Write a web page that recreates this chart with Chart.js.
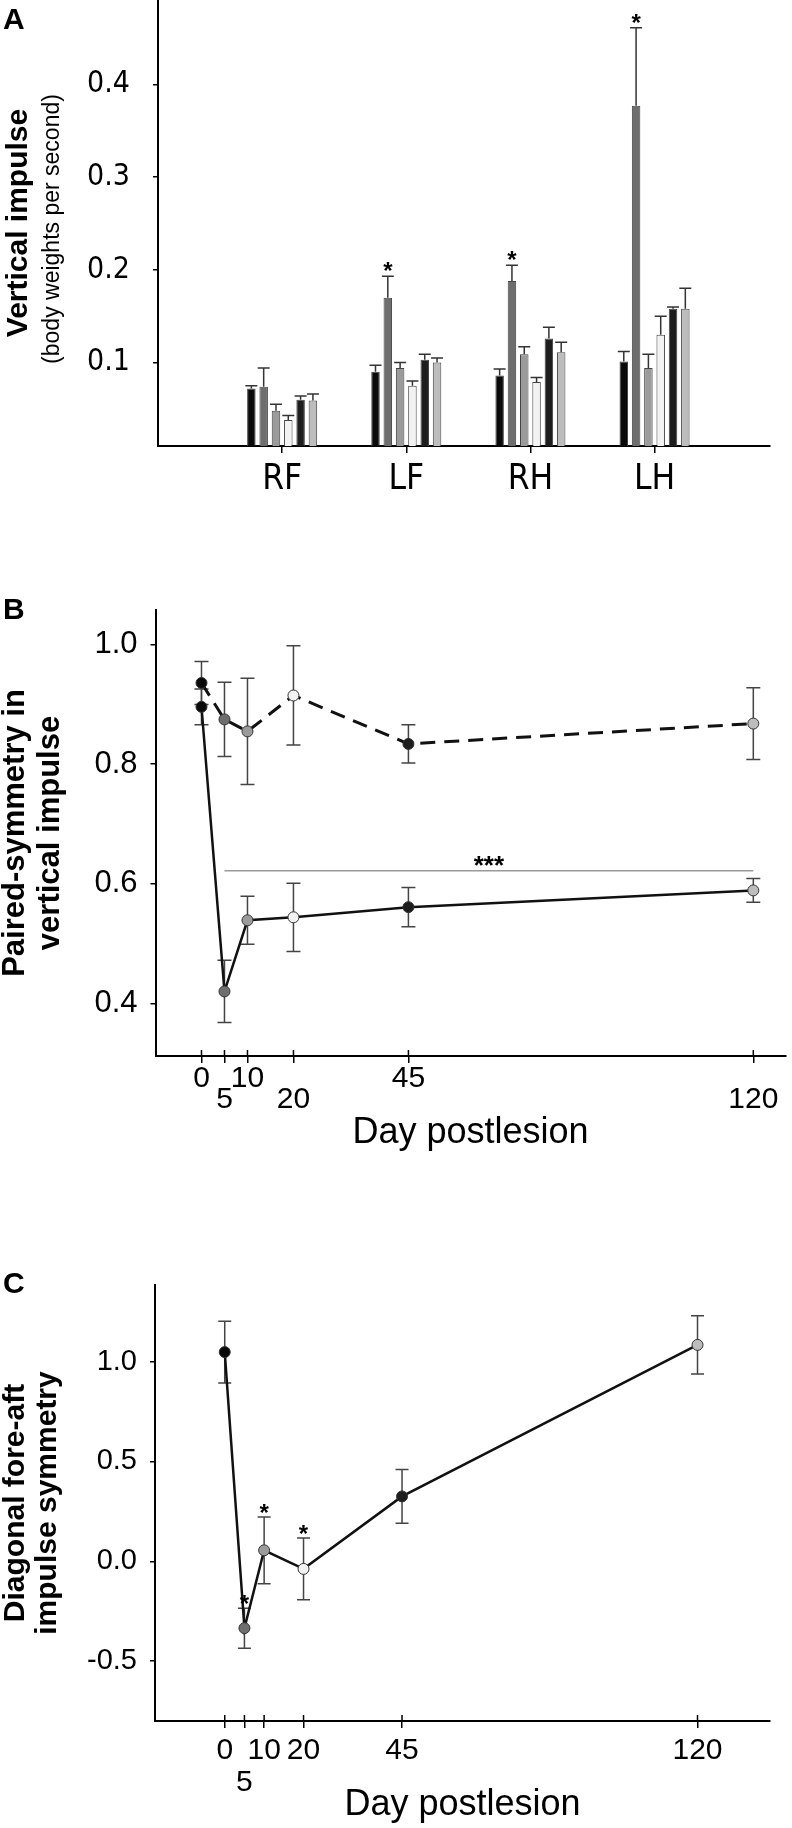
<!DOCTYPE html>
<html lang="en">
<head>
<meta charset="UTF-8">
<title>Vertical impulse and paired symmetry after lesion</title>
<script src="https://cdn.jsdelivr.net/npm/chart.js@4"></script>
<style>
  html, body { margin: 0; padding: 0; background: #fff; }
  body { width: 792px; height: 1828px; position: relative; overflow: hidden;
         font-family: 'Liberation Sans', Arial, sans-serif; }
  canvas { position: absolute; left: 0; }
  .panel { position: absolute; left: 3px; font-weight: bold; font-size: 30px; line-height: 1; z-index: 2; }
</style>
</head>
<body>
<canvas id="chartA" width="792" height="520" style="top:0"></canvas>
<canvas id="chartB" width="792" height="600" style="top:560px"></canvas>
<canvas id="chartC" width="792" height="588" style="top:1240px"></canvas>
<div class="panel" style="top:4px">A</div>
<div class="panel" style="top:594px">B</div>
<div class="panel" style="top:1268px">C</div>

<script>
// limbs and time points (days postlesion)
const limbs = ['RF', 'LF', 'RH', 'LH'];
const days = [0, 5, 10, 20, 45, 120];
const dayColors = ['#0a0a0a', '#6e6e6e', '#9b9b9b', '#f2f2f2', '#1e1e1e', '#bdbdbd'];

// A - vertical impulse per limb (RF, LF, RH, LH), one array per day
const impulseDay0 = [0.072, 0.090, 0.086, 0.101];
const impulseDay5 = [0.074, 0.170, 0.188, 0.377];
const impulseDay10 = [0.048, 0.094, 0.109, 0.094];
const impulseDay20 = [0.038, 0.075, 0.079, 0.130];
const impulseDay45 = [0.060, 0.103, 0.126, 0.158];
const impulseDay120 = [0.059, 0.100, 0.111, 0.158];
const impulseErr0 = [0.003, 0.007, 0.007, 0.011];
const impulseErr5 = [0.020, 0.023, 0.017, 0.084];
const impulseErr10 = [0.007, 0.006, 0.008, 0.015];
const impulseErr20 = [0.005, 0.005, 0.005, 0.020];
const impulseErr45 = [0.004, 0.006, 0.012, 0.002];
const impulseErr120 = [0.007, 0.005, 0.011, 0.022];
const impulseStarsDay5 = ['LF', 'RH', 'LH'];
const yTicksA = [0.1, 0.2, 0.3, 0.4];

// B - paired symmetry in vertical impulse
const pairedTop = [0.936, 0.875, 0.855, 0.915, 0.834, 0.868];
const pairedTopErr = [0.036, 0.062, 0.089, 0.083, 0.032, 0.060];
const pairedBottom = [0.896, 0.420, 0.539, 0.544, 0.561, 0.589];
const pairedBottomErr = [0.030, 0.052, 0.040, 0.057, 0.033, 0.020];
const pairedSigDays = [5, 120];
const pairedSigLevel = 0.622;
const yTicksB = [0.4, 0.6, 0.8, 1.0];

// C - diagonal fore-aft impulse symmetry
const diagonal = [1.048, -0.335, 0.055, -0.038, 0.325, 1.084];
const diagonalErr = [0.155, 0.100, 0.167, 0.155, 0.135, 0.146];
const diagonalStarDays = [5, 10, 20];
const yTicksC = [-0.5, 0, 0.5, 1.0];

const FONT = "'Liberation Sans', Arial, sans-serif";
const NARROW = "'DejaVu Sans Condensed', 'Liberation Sans', Arial, sans-serif";
Chart.defaults.font.family = FONT;
Chart.defaults.color = '#000';

// error bars, drawn under the marks
const errorBars = {
  id: 'errorBars',
  beforeDatasetsDraw(chart, args, opts) {
    const ctx = chart.ctx;
    chart.data.datasets.forEach((ds, di) => {
      if (!ds.errors) return;
      const meta = chart.getDatasetMeta(di);
      const ys = chart.scales[meta.yAxisID];
      ctx.save();
      ctx.strokeStyle = opts.color;
      ctx.lineWidth = opts.width;
      meta.data.forEach((el, i) => {
        const v = ds.data[i].y, e = ds.errors[i];
        const top = ys.getPixelForValue(v + e);
        const bottom = opts.upOnly ? el.y : ys.getPixelForValue(v - e);
        ctx.beginPath();
        ctx.moveTo(el.x, bottom);
        ctx.lineTo(el.x, top);
        ctx.moveTo(el.x - opts.cap, top);
        ctx.lineTo(el.x + opts.cap, top);
        if (!opts.upOnly) {
          ctx.moveTo(el.x - opts.cap, bottom);
          ctx.lineTo(el.x + opts.cap, bottom);
        }
        ctx.stroke();
      });
      ctx.restore();
    });
  }
};

// significance asterisks above error bars, and text over a bracket line
const stars = {
  id: 'stars',
  afterDatasetsDraw(chart, args, opts) {
    const ctx = chart.ctx;
    ctx.save();
    ctx.font = 'bold ' + opts.size + 'px ' + FONT;
    ctx.fillStyle = '#000';
    ctx.textAlign = 'center';
    ctx.textBaseline = 'alphabetic';
    chart.data.datasets.forEach((ds, di) => {
      const meta = chart.getDatasetMeta(di);
      const ys = chart.scales[meta.yAxisID];
      if (ds.stars) {
        ds.stars.forEach(i => {
          const el = meta.data[i];
          const top = ys.getPixelForValue(ds.data[i].y + ds.errors[i]);
          ctx.fillText('*', el.x, top - opts.gap + opts.size * 0.58);
        });
      }
      if (ds.sigText) {
        const a = meta.data[0], b = meta.data[meta.data.length - 1];
        ctx.fillText(ds.sigText, (a.x + b.x) / 2, a.y - opts.gap + opts.size * 0.58);
      }
    });
    ctx.restore();
  }
};

// tick stubs inside the plot, so x ticks cross the axis
const innerTicks = {
  id: 'innerTicks',
  afterDraw(chart, args, opts) {
    if (!opts.length) return;
    const ctx = chart.ctx, xs = chart.scales.x, bottom = chart.chartArea.bottom;
    ctx.save();
    ctx.strokeStyle = '#000';
    ctx.lineWidth = 1.5;
    xs.ticks.forEach(t => {
      const x = xs.getPixelForValue(t.value);
      ctx.beginPath();
      ctx.moveTo(x, bottom);
      ctx.lineTo(x, bottom - opts.length);
      ctx.stroke();
    });
    ctx.restore();
  }
};

// second, smaller line of the y title in A
const subTitle = {
  id: 'subTitle',
  afterDraw(chart, args, opts) {
    if (!opts.text) return;
    const ctx = chart.ctx, area = chart.chartArea;
    ctx.save();
    ctx.translate(opts.x, (area.top + area.bottom) / 2 + opts.shift);
    ctx.rotate(-Math.PI / 2);
    ctx.font = opts.font;
    ctx.fillStyle = '#000';
    ctx.textAlign = 'center';
    ctx.textBaseline = 'middle';
    ctx.fillText(opts.text, 0, 0);
    ctx.restore();
  }
};

function yAxis(width, ticks, tickFont, tickPad, fmt, title) {
  return {
    type: 'linear',
    afterFit(s) { s.width = width; s.paddingTop = 0; s.paddingBottom = 0; },
    afterBuildTicks(s) { s.ticks = ticks.map(v => ({ value: v })); },
    ticks: { font: tickFont, padding: tickPad, callback: fmt },
    grid: { drawOnChartArea: false, drawTicks: true, tickLength: 5, color: '#000', lineWidth: 1.5 },
    border: { display: true, color: '#000', width: 2 },
    title: title
  };
}

function xAxis(height, ticks, tickFont, tickPad, labelFn, title) {
  return {
    type: 'linear',
    offset: false,
    afterFit(s) { s.height = height; s.paddingLeft = 0; s.paddingRight = 0; },
    afterBuildTicks(s) { s.ticks = ticks.map(v => ({ value: v })); },
    ticks: { font: tickFont, padding: tickPad, autoSkip: false, maxRotation: 0, minRotation: 0, callback: labelFn },
    grid: { offset: false, drawOnChartArea: false, drawTicks: true, tickLength: 7, color: '#000', lineWidth: 1.5 },
    border: { display: true, color: '#000', width: 2 },
    title: title
  };
}

const baseOptions = { responsive: false, animation: false, devicePixelRatio: 1, events: [] };

// ---- A: bars ----
const impulseMeans = [impulseDay0, impulseDay5, impulseDay10, impulseDay20, impulseDay45, impulseDay120];
const impulseErrs = [impulseErr0, impulseErr5, impulseErr10, impulseErr20, impulseErr45, impulseErr120];

new Chart(document.getElementById('chartA'), {
  type: 'bar',
  data: {
    datasets: impulseMeans.map((vals, d) => ({
      label: 'Day ' + days[d],
      data: vals.map((v, i) => ({ x: i + 1, y: v })),
      errors: impulseErrs[d],
      stars: d === 1 ? impulseStarsDay5.map(l => limbs.indexOf(l)) : null,
      backgroundColor: dayColors[d],
      borderColor: '#444',
      borderWidth: 1,
      categoryPercentage: 0.595,
      barPercentage: 0.69
    }))
  },
  options: Object.assign({}, baseOptions, {
    layout: { padding: { left: 0, top: 0, right: 22, bottom: 0 } },
    plugins: {
      legend: { display: false },
      tooltip: { enabled: false },
      errorBars: { color: '#333', width: 1.5, cap: 6, upOnly: true },
      stars: { size: 24, gap: 11 },
      subTitle: { text: '(body weights per second)', x: 53, shift: 6, font: '23px ' + FONT }
    },
    scales: {
      x: Object.assign(xAxis(74, [1, 2, 3, 4], { size: 35, family: NARROW }, 6, v => limbs[v - 1], { display: false }),
        { min: 0, max: 4.93 }),
      y: Object.assign(yAxis(158, yTicksA, { size: 30, family: NARROW }, 23, v => v.toFixed(1),
        { display: true, text: 'Vertical impulse', font: { size: 30, weight: 'bold', lineHeight: 1.2 }, padding: { top: 1, bottom: 0 } }),
        { min: 0.01, max: 0.491 })
    }
  }),
  plugins: [errorBars, stars, subTitle]
});

// ---- B: paired symmetry ----
const pointStyle = {
  pointRadius: 5.5, pointBorderWidth: 1, pointBorderColor: '#333',
  pointBackgroundColor: dayColors, tension: 0
};

new Chart(document.getElementById('chartB'), {
  type: 'line',
  data: {
    datasets: [
      Object.assign({
        label: 'paired top',
        data: days.map((d, i) => ({ x: d, y: pairedTop[i] })),
        errors: pairedTopErr,
        borderColor: '#111', borderWidth: 3, borderDash: [15, 9]
      }, pointStyle),
      Object.assign({
        label: 'paired bottom',
        data: days.map((d, i) => ({ x: d, y: pairedBottom[i] })),
        errors: pairedBottomErr,
        borderColor: '#111', borderWidth: 2.5
      }, pointStyle),
      {
        label: 'significance',
        data: pairedSigDays.map(d => ({ x: d, y: pairedSigLevel })),
        sigText: '***',
        borderColor: '#999', borderWidth: 1.5, pointRadius: 0
      }
    ]
  },
  options: Object.assign({}, baseOptions, {
    layout: { padding: { left: 0, top: 50, right: 4, bottom: 0 } },
    plugins: {
      legend: { display: false },
      tooltip: { enabled: false },
      errorBars: { color: '#444', width: 1.5, cap: 7, upOnly: false },
      stars: { size: 26, gap: 12 },
      innerTicks: { length: 6 }
    },
    scales: {
      x: Object.assign(xAxis(104, days, { size: 30, lineHeight: 0.7 }, 5.5,
          (v, i) => i % 2 ? ['', String(v)] : String(v),
          { display: true, text: 'Day postlesion', font: { size: 36, lineHeight: 1.2 }, padding: { top: 0, bottom: 5 } }),
        { min: -10, max: 127 }),
      y: Object.assign(yAxis(155.5, yTicksB, { size: 31 }, 13, v => v.toFixed(1),
          { display: true, text: ['Paired-symmetry in', 'vertical impulse'], font: { size: 31, weight: 'bold', lineHeight: 1.12 }, padding: { top: -2, bottom: 0 } }),
        { min: 0.312, max: 1.058 })
    }
  }),
  plugins: [errorBars, stars, innerTicks]
});

// ---- C: diagonal fore-aft symmetry ----
new Chart(document.getElementById('chartC'), {
  type: 'line',
  data: {
    datasets: [
      Object.assign({
        label: 'diagonal',
        data: days.map((d, i) => ({ x: d, y: diagonal[i] })),
        errors: diagonalErr,
        stars: diagonalStarDays.map(d => days.indexOf(d)),
        borderColor: '#111', borderWidth: 2.5
      }, pointStyle)
    ]
  },
  options: Object.assign({}, baseOptions, {
    layout: { padding: { left: 0, top: 45, right: 22, bottom: 0 } },
    plugins: {
      legend: { display: false },
      tooltip: { enabled: false },
      errorBars: { color: '#444', width: 1.5, cap: 6.5, upOnly: false },
      stars: { size: 24, gap: 10 },
      innerTicks: { length: 6 }
    },
    scales: {
      x: Object.assign(xAxis(107, days, { size: 30, lineHeight: 1.067 }, 7,
          (v, i) => i === 1 ? ['', String(v)] : String(v),
          { display: true, text: 'Day postlesion', font: { size: 36, lineHeight: 1.2 }, padding: { top: 0, bottom: 1 } }),
        { min: -17.7, max: 138.4 }),
      y: Object.assign(yAxis(155, yTicksC, { size: 29 }, 13, v => v.toFixed(1),
          { display: true, text: ['Diagonal fore-aft', 'impulse symmetry'], font: { size: 30, weight: 'bold', lineHeight: 1.05 }, padding: { top: 0, bottom: 0 } }),
        { min: -0.80, max: 1.384 })
    }
  }),
  plugins: [errorBars, stars, innerTicks]
});
</script>
</body>
</html>
